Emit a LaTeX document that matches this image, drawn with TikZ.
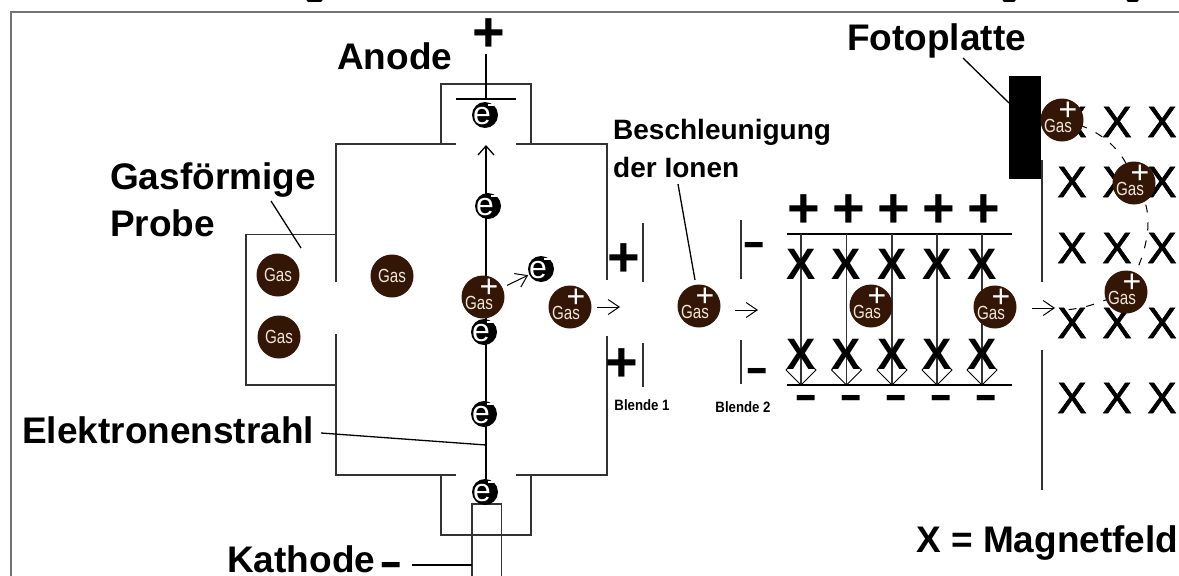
\documentclass[tikz,border=0pt]{standalone}
\usepackage{fontspec}
\setmainfont{Liberation Sans}
\newfontfamily\gasfont[FakeStretch=0.8]{Liberation Sans}
\newfontfamily\blendefont[FakeStretch=0.88]{Liberation Sans}
\newfontfamily\minusfont[FakeStretch=1.6]{Liberation Sans}
\newfontfamily\kreuzfont[FakeBold=1.5]{Liberation Sans}
\usetikzlibrary{arrows.meta}
\definecolor{gasbrown}{HTML}{331606}
\definecolor{gastext}{HTML}{EFE6D8}
\definecolor{wallgray}{HTML}{333333}
\tikzset{
  title/.style={anchor=base west,inner sep=0pt,font=\fontsize{37}{37}\selectfont\bfseries},
  subtitle/.style={anchor=base west,inner sep=0pt,font=\fontsize{28}{28}\selectfont\bfseries},
  blende/.style={inner sep=0pt,font=\fontsize{15}{15}\blendefont\bfseries},
  pluszeichen/.style={inner sep=0pt,yshift=-2.5pt,font=\fontsize{56}{56}\selectfont\bfseries},
  minuszeichen/.style={inner sep=0pt,yshift=-5pt,font=\fontsize{44}{44}\minusfont\bfseries},
  kreuz/.style={inner sep=0pt,font=\fontsize{44}{44}\kreuzfont},
  kreuzfett/.style={inner sep=0pt,font=\fontsize{44}{44}\selectfont\bfseries},
  wand/.style={draw=wallgray,line width=1.3pt},
  strahl/.style={draw=black,line width=1.3pt},
  pfeil/.style={draw=black,line width=1pt,-{Straight Barb[length=11pt,width=15pt]}},
  gasatom/.style={circle,fill=gasbrown,inner sep=0pt,minimum size=43pt},
  gasname/.style={inner sep=0pt,text=gastext,font=\fontsize{19}{19}\gasfont},
  gasplus/.style={inner sep=0pt,text=white,font=\fontsize{32}{32}\selectfont},
  elektron/.style={circle,fill=black,inner sep=0pt,minimum size=26pt},
  ename/.style={inner sep=0pt,text=white,font=\fontsize{32}{32}\selectfont},
  eminus/.style={fill=white,inner sep=0pt,minimum width=6pt,minimum height=2pt},
}
\begin{document}
\begin{tikzpicture}[x=1pt,y=-1pt]
  \useasboundingbox (0,0) rectangle (1179,576);
  \fill[white] (0,0) rectangle (1179,576);

  % abgeschnittene Zeile oben
  \draw[line width=3pt,line cap=round] (308,0.5) -- (321,0.5);
  \draw[line width=3pt,line cap=round] (1004,0.5) -- (1014,0.5);
  \draw[line width=3pt,line cap=round] (1128,0.5) -- (1137,0.5);
  \draw[draw=gray!90!black,line width=1.5pt] (11,576) -- (11,12) -- (1179,12);

  % Ionenquelle
  \draw[wand] (336,282) -- (336,144) -- (456,144);
  \draw[wand] (516,144) -- (607,144) -- (607,280);
  \draw[wand] (336,334) -- (336,475) -- (456,475);
  \draw[wand] (516,475) -- (607,475) -- (607,336);
  \draw[wand] (336,234.5) -- (246,234.5) -- (246,385) -- (336,385);
  \draw[wand] (441,144) -- (441,84) -- (531,84) -- (531,144);
  \draw[wand] (441,475) -- (441,535) -- (531,535) -- (531,475);
  \draw[wand] (472,576) -- (472,504) -- (501.5,504) -- (501.5,576);

  \coordinate (anodeoben) at (486,54);
  \coordinate (anodemitte) at (486,99);
  \coordinate (strahlspitze) at (486,145);
  \coordinate (strahlfuss) at (486,500);
  \draw[strahl] (456,99) -- (516,99);
  \draw[strahl] (anodeoben) -- (anodemitte);
  \draw[strahl,-{Straight Barb[length=9pt,width=16pt]}] (strahlfuss) -- (strahlspitze);

  % Blenden
  \draw[wand] (643,223) -- (643,282);
  \draw[wand] (643,343) -- (643,387);
  \draw[wand] (741,220) -- (741,279);
  \draw[wand] (741,340) -- (741,384);
  \node[pluszeichen] (plusanode) at (489,33) {+};
  \node[pluszeichen] (plusblendea) at (624,258) {+};
  \node[pluszeichen] (plusblendeb) at (622,363) {+};
  \node[minuszeichen] (minusblendea) at (754,244) {-};
  \node[minuszeichen] (minusblendeb) at (757,370) {-};
  \node[blende] (blendeeins) at (642,405) {Blende 1};
  \node[blende] (blendezwei) at (743,407) {Blende 2};

  % Ablenkplatten
  \draw[strahl] (787,234) -- (1012,234);
  \draw[strahl] (787,385) -- (1012,385);
  \foreach \x in {801,846.5,892,937,982} {
    \draw[wand] (\x,234) -- (\x,385);
    \draw[line width=1pt] (\x-15,370) -- (\x,385) -- (\x+15,370) -- (\x,355) -- cycle;
    \node[kreuzfett] (xa\x) at (\x,264) {X};
    \node[kreuzfett] (xb\x) at (\x,354) {X};
  }
  \foreach \x in {804,849,894,939,984}
    \node[pluszeichen] (plus\x) at (\x,209) {+};
  \foreach \x in {806,851,896,941,986}
    \node[minuszeichen] (minus\x) at (\x,397) {-};

  % Magnetfeld
  \fill (1009,76) rectangle (1041,179);
  \draw[wand] (1042,160) -- (1042,282);
  \draw[wand] (1042,350) -- (1042,490);
  \foreach \x in {1072,1117,1162}
    \foreach \y in {122,182,248,323,398}
      \node[kreuz] (x\x y\y) at (\x,\y) {X};

  \coordinate (ionA) at (1062,120);
  \coordinate (ionB) at (1134,183);
  \coordinate (ionC) at (1126,292);
  \coordinate (bahnstart) at (1060,310);
  \draw[line width=1pt,dash pattern=on 8pt off 10pt] (ionA) .. controls (1100,128) and (1125,150) .. (ionB)
    .. controls (1150,200) and (1158,235) .. (ionC) .. controls (1105,300) and (1085,310) .. (bahnstart);

  % Atome und Ionen
  \foreach \name/\x/\y in {gasa/278/275,gasb/392/276,gasc/279/337} {
    \node[gasatom] (\name) at (\x,\y) {};
    \node[gasname] (\name text) at (\name) {Gas};
  }
  \foreach \name/\x/\y in {ionq/483/297,ionr/570/307,ions/699/306,iont/871/306,ionu/995/307,ionv/1062/120,ionw/1134/183,ionz/1126/292} {
    \node[gasatom] (\name) at (\x,\y) {};
    \node[gasname] (\name text) at (\x-4,\y+6) {Gas};
    \node[gasplus] (\name plus) at (\x+6,\y-9) {+};
  }
  \foreach \name/\x/\y in {ea/485/115,eb/488/206,ec/541/269,ed/484/332,ee/484/414,ef/485/492} {
    \node[elektron] (\name) at (\x,\y) {};
    \node[ename] (\name text) at (\x-3,\y+1) {e};
    \node[eminus] (\name minus) at (\x+6,\y-10) {};
  }

  \coordinate (pfeila) at (597,307);
  \coordinate (pfeilaende) at (620,307);
  \coordinate (pfeilb) at (735,310);
  \coordinate (pfeilbende) at (758,310);
  \coordinate (pfeilc) at (1032,308);
  \coordinate (pfeilcende) at (1055,308);
  \draw[pfeil] (pfeila) -- (pfeilaende);
  \draw[pfeil] (pfeilb) -- (pfeilbende);
  \draw[pfeil] (pfeilc) -- (pfeilcende);
  \draw[pfeil,shorten <=5pt,shorten >=1pt] (ionq) -- (ec);

  % Beschriftung
  \node[title] (anode) at (337,69) {Anode};
  \node[title] (probea) at (110,189) {Gasförmige};
  \node[title] (probeb) at (110,236) {Probe};
  \node[title] (estrahl) at (22,443) {Elektronenstrahl};
  \node[title] (kathode) at (227,572) {Kathode};
  \node[minuszeichen] (kathminus) at (391,564) {-};
  \node[title] (foto) at (847,50) {Fotoplatte};
  \node[title] (magnet) at (916,552) {X = Magnetfeld};
  \node[subtitle] (beschl) at (613,139) {Beschleunigung};
  \node[subtitle] (ionen) at (613,177) {der Ionen};

  \coordinate (probeziel) at (301,248);
  \coordinate (probestart) at (271,201);
  \coordinate (fotostart) at (963,58);
  \coordinate (fotoziel) at (1009,103);
  \coordinate (ionenstart) at (678,184);
  \coordinate (ionenziel) at (695,280);
  \coordinate (estart) at (321,433);
  \coordinate (eziel) at (486,445);
  \coordinate (kstart) at (412,565);
  \coordinate (kziel) at (472,565);
  \draw[strahl] (probestart) -- (probeziel);
  \draw[strahl] (fotostart) -- (fotoziel);
  \draw[strahl] (ionenstart) -- (ionenziel);
  \draw[strahl] (estart) -- (eziel);
  \draw[strahl] (kstart) -- (kziel);
\end{tikzpicture}
\end{document}
